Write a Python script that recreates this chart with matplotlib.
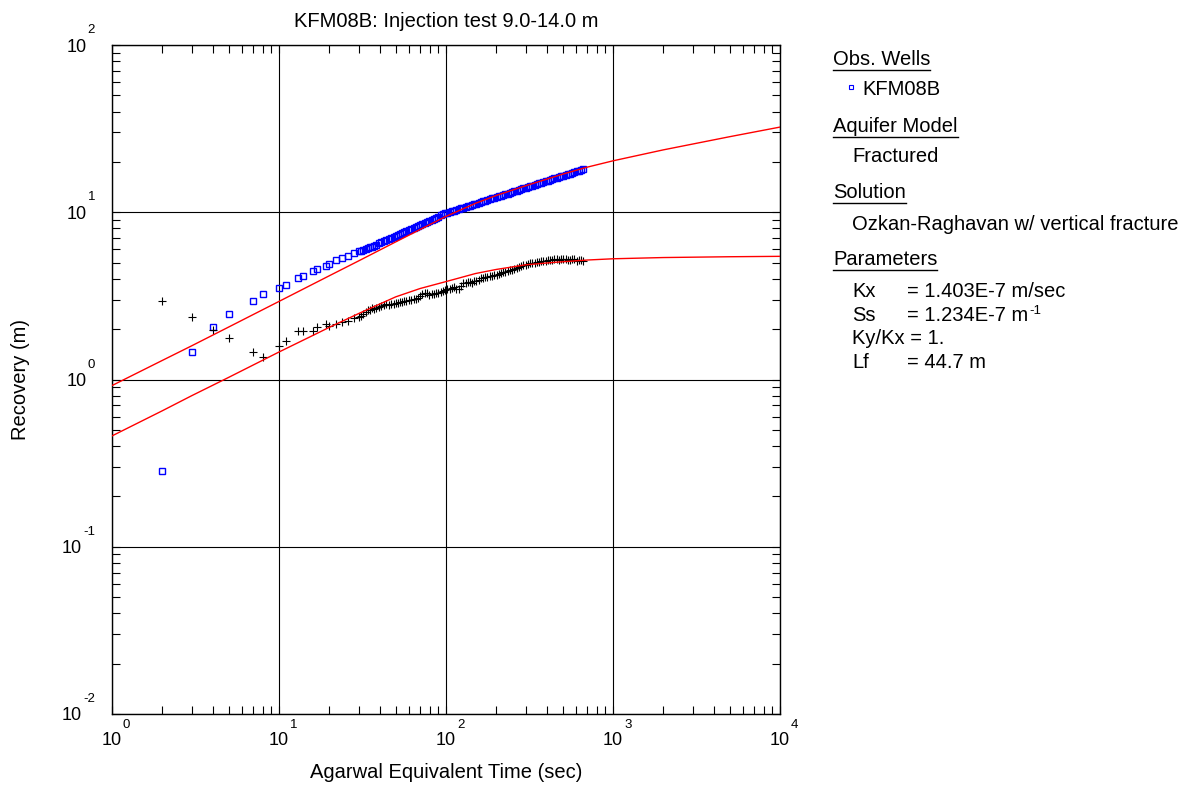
import numpy as np
import matplotlib
matplotlib.use("Agg")
import matplotlib.pyplot as plt
from matplotlib.ticker import LogLocator, NullFormatter
from matplotlib.lines import Line2D

plt.rcParams['font.family'] = ['Liberation Sans', 'DejaVu Sans']

# observed data (Agarwal equivalent time, s)
t_obs = [2, 3, 4, 5, 7, 8, 10, 11, 13, 14, 16, 17, 19, 20, 22, 24, 26, 28,
         30, 31, 32, 33, 34, 35, 36, 37, 38, 39.5,
         41, 42.5, 44, 45.5, 47, 48.5, 50, 51.5, 53, 54.5,
         56, 58, 60, 62, 64, 66, 68, 70, 72, 74.5,
         77, 79.5, 82, 84.5, 87, 90, 93, 96, 99, 102,
         105, 108, 112, 115, 119, 123, 127, 131, 135, 139,
         143, 148, 152, 157, 162, 167, 172, 177, 183, 189,
         195, 201, 207, 214, 220, 227, 234, 241, 249, 257,
         265, 273, 282, 291, 300, 309, 319, 329, 339, 350,
         360, 371, 383, 395, 407, 420, 433, 446, 460, 475,
         489, 504, 520, 536, 553, 570, 588, 606, 625, 644,
         664]
recovery = [0.285, 1.47, 2.05, 2.48, 2.93, 3.23, 3.51, 3.66, 4.03, 4.14, 4.43, 4.56,
            4.75, 4.89, 5.16, 5.31, 5.46, 5.68,
            5.84, 5.88, 5.92, 6.00, 6.08, 6.16, 6.24, 6.32, 6.40, 6.51,
            6.62, 6.73, 6.83, 6.93, 7.03, 7.14, 7.24, 7.33, 7.43, 7.52,
            7.62, 7.74, 7.86, 7.98, 8.09, 8.21, 8.32, 8.43, 8.53, 8.66,
            8.79, 8.92, 9.04, 9.17, 9.29, 9.43, 9.57, 9.70, 9.84, 9.93,
            10.02, 10.11, 10.23, 10.32, 10.43, 10.54, 10.65, 10.76, 10.86, 10.96,
            11.06, 11.18, 11.27, 11.39, 11.51, 11.63, 11.74, 11.84, 11.97, 12.10,
            12.22, 12.34, 12.45, 12.57, 12.69, 12.82, 12.94, 13.07, 13.20, 13.33,
            13.46, 13.60, 13.74, 13.88, 14.02, 14.15, 14.29, 14.44, 14.58, 14.72,
            14.86, 15.01, 15.16, 15.31, 15.46, 15.62, 15.77, 15.93, 16.08, 16.23,
            16.38, 16.54, 16.71, 16.87, 17.04, 17.21, 17.38, 17.55, 17.73, 17.90,
            18.07]
derivative = [2.93, 2.35, 1.99, 1.76, 1.47, 1.36, 1.58, 1.69, 1.94, 1.94, 1.96, 2.05,
              2.16, 2.10, 2.16, 2.20, 2.25, 2.32,
              2.35, 2.40, 2.48, 2.53, 2.59, 2.62, 2.66, 2.63, 2.66, 2.70,
              2.74, 2.79, 2.81, 2.78, 2.81, 2.84, 2.85, 2.87, 2.90, 2.92,
              2.93, 2.95, 2.97, 2.99, 3.01, 3.03, 3.06, 3.15, 3.25, 3.30,
              3.28, 3.22, 3.23, 3.25, 3.27, 3.31, 3.35, 3.38, 3.44, 3.46,
              3.50, 3.54, 3.56, 3.49, 3.47, 3.62, 3.76, 3.78, 3.81, 3.82,
              3.80, 3.86, 3.90, 3.95, 4.02, 4.07, 4.10, 4.12, 4.14, 4.17,
              4.20, 4.24, 4.28, 4.33, 4.38, 4.42, 4.45, 4.49, 4.53, 4.57,
              4.61, 4.68, 4.75, 4.81, 4.86, 4.90, 4.95, 4.98, 5.00, 5.03,
              5.05, 5.08, 5.10, 5.13, 5.15, 5.17, 5.19, 5.22, 5.24, 5.21,
              5.22, 5.26, 5.25, 5.18, 5.20, 5.24, 5.22, 5.12, 5.15, 5.20,
              5.08]

# fitted type curves
t_fit = [1, 2, 3, 5, 10, 20, 30, 50, 100, 150, 200, 300, 500, 700, 1000,
         2000, 5000, 10000]
fit_recovery = [0.92, 1.30, 1.59, 2.06, 2.93, 4.17, 5.12, 6.65, 9.45, 11.3, 12.6,
                14.4, 16.9, 18.6, 20.3, 23.6, 28.3, 32.3]
t_fitd = [1, 2, 3, 5, 10, 15, 20, 30, 50, 70, 100, 150, 200, 300, 450, 700,
          1000, 2000, 5000, 10000]
fit_derivative = [0.46, 0.65, 0.80, 1.03, 1.46, 1.78, 2.05, 2.48, 3.12, 3.50, 3.85,
                  4.30, 4.55, 4.85, 5.02, 5.18, 5.27, 5.36, 5.42, 5.45]

W, H = 1184, 788
fig = plt.figure(figsize=(W / 100, H / 100), dpi=100)
ax = fig.add_axes([112 / W, 1 - 714 / H, (780 - 112) / W, (714 - 45) / H])

ax.plot(t_obs, recovery, 's', ms=4, mfc='none', mec='#0000ff', mew=1.0, zorder=3)
ax.plot(t_obs, derivative, '+', ms=5.5, color='black', mew=0.8, zorder=3)
ax.plot(t_fit, fit_recovery, '-', color='red', lw=1.0, zorder=4)
ax.plot(t_fitd, fit_derivative, '-', color='red', lw=1.0, zorder=4)

ax.set_xscale('log')
ax.set_yscale('log')
ax.set_xlim(1, 1e4)
ax.set_ylim(1e-2, 1e2)
ax.xaxis.set_minor_locator(LogLocator(base=10, subs=np.arange(2, 10)))
ax.yaxis.set_minor_locator(LogLocator(base=10, subs=np.arange(2, 10)))
ax.xaxis.set_minor_formatter(NullFormatter())
ax.yaxis.set_minor_formatter(NullFormatter())
ax.grid(True, which='major', color='black', lw=0.8)
ax.tick_params(which='both', direction='in', top=True, right=True,
               length=6, width=0.8, labelbottom=False, labelleft=False)
for s in ax.spines.values():
    s.set_linewidth(1.0)

def fx(x):
    return x / W

def fy(y):
    return 1 - y / H

fig.text(fx(446), fy(27), 'KFM08B: Injection test 9.0-14.0 m', ha='center',
         va='baseline', fontsize=14.5)
fig.text(fx(446), fy(778), 'Agarwal Equivalent Time (sec)', ha='center',
         va='baseline', fontsize=14.5)
fig.text(fx(21), fy(380), 'Recovery (m)', rotation=90, ha='center',
         va='center', fontsize=14.5)

# right-hand legend block
fs = 14.5
headings = [('Obs. Wells', 65), ('Aquifer Model', 132), ('Solution', 198),
            ('Parameters', 265)]
head_texts = []
for label, yb in headings:
    head_texts.append(fig.text(fx(833), fy(yb), label, ha='left', va='baseline',
                               fontsize=fs))
fig.text(fx(862), fy(95), 'KFM08B', ha='left', va='baseline', fontsize=fs)
fig.add_artist(Line2D([fx(850.5)], [fy(87)], marker='s', ms=3.5, mfc='none',
                      mec='#0000ff', mew=0.8, transform=fig.transFigure))
fig.text(fx(852), fy(162), 'Fractured', ha='left', va='baseline', fontsize=fs)
fig.text(fx(852), fy(230), 'Ozkan-Raghavan w/ vertical fracture', ha='left',
         va='baseline', fontsize=fs)
fig.text(fx(852), fy(297), 'Kx', ha='left', va='baseline', fontsize=fs)
fig.text(fx(907), fy(297), '= 1.403E-7 m/sec', ha='left', va='baseline', fontsize=fs)
fig.text(fx(852), fy(321), 'Ss', ha='left', va='baseline', fontsize=fs)
ss_text = fig.text(fx(907), fy(321), '= 1.234E-7 m', ha='left', va='baseline',
                   fontsize=fs)
fig.text(fx(852), fy(344), 'Ky/Kx = 1.', ha='left', va='baseline', fontsize=fs)
fig.text(fx(852), fy(368), 'Lf', ha='left', va='baseline', fontsize=fs)
fig.text(fx(907), fy(368), '= 44.7 m', ha='left', va='baseline', fontsize=fs)

fig.canvas.draw()
renderer = fig.canvas.get_renderer()

# underline the headings
for txt, (label, yb) in zip(head_texts, headings):
    bb = txt.get_window_extent(renderer)
    fig.add_artist(Line2D([bb.x0 / W, bb.x1 / W], [fy(yb + 4.5)] * 2,
                          color='black', lw=1.0, transform=fig.transFigure))
bb = ss_text.get_window_extent(renderer)
fig.text((bb.x1 + 1) / W, fy(314), '-1', ha='left', va='baseline', fontsize=9.5)

# decade tick labels: "10" with a raised exponent
lab_fs, exp_fs = 13, 9.5
for k in range(0, 5):
    xd, yd = ax.transData.transform((10.0 ** k, 1e-2))
    fig.text(xd / W, (yd - 31) / H, '10', ha='center', va='baseline', fontsize=lab_fs)
    fig.text((xd + 11) / W, (yd - 14) / H, str(k), ha='left', va='baseline',
             fontsize=exp_fs)
for k in range(-2, 3):
    xd, yd = ax.transData.transform((1, 10.0 ** k))
    e = fig.text((xd - 17) / W, (yd + 12) / H, str(k), ha='right', va='baseline',
                 fontsize=exp_fs)
    eb = e.get_window_extent(renderer)
    fig.text((eb.x0 - 1) / W, (yd - 6.5) / H, '10', ha='right', va='baseline',
             fontsize=lab_fs)

fig.savefig('out.png', dpi=100)
